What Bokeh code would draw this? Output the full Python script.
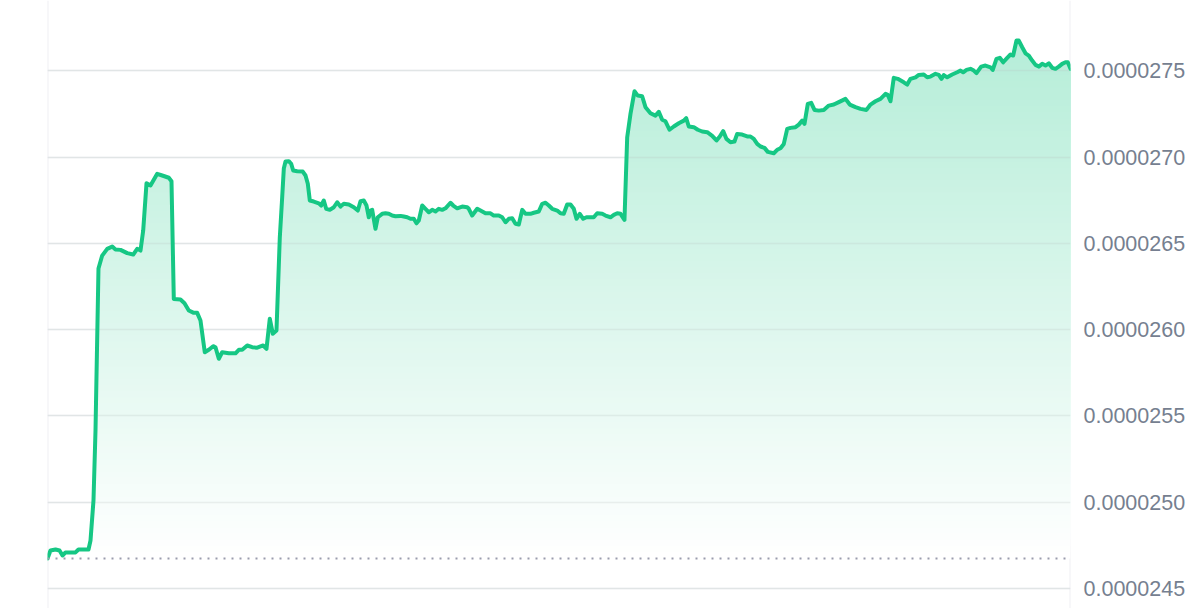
import numpy as np
from bokeh.plotting import figure
from bokeh.models import Range1d, FixedTicker, PrintfTickFormatter, Span
from bokeh.embed import file_html
from bokeh.resources import INLINE

# time in hours since start of the 24h window
hours = [
    0.000, 0.070, 0.188, 0.282, 0.352, 0.422, 0.540, 0.657, 0.727, 0.962,
    1.009, 1.079, 1.126, 1.196, 1.283, 1.401, 1.518, 1.595, 1.713, 1.870,
    2.011, 2.104, 2.182, 2.245, 2.323, 2.416, 2.574, 2.691, 2.846, 2.909,
    2.963, 3.120, 3.214, 3.315, 3.432, 3.512, 3.589, 3.690, 3.784, 3.887,
    3.941, 4.019, 4.098, 4.253, 4.411, 4.488, 4.568, 4.685, 4.802, 4.920,
    5.060, 5.138, 5.215, 5.286, 5.372, 5.450, 5.506, 5.544, 5.584, 5.661,
    5.717, 5.764, 5.858, 5.989, 6.053, 6.107, 6.154, 6.247, 6.365, 6.421,
    6.482, 6.538, 6.623, 6.717, 6.796, 6.874, 6.951, 7.069, 7.186, 7.280,
    7.343, 7.420, 7.484, 7.538, 7.577, 7.617, 7.695, 7.749, 7.852, 7.929,
    8.007, 8.087, 8.164, 8.281, 8.359, 8.439, 8.516, 8.594, 8.657, 8.711,
    8.791, 8.868, 8.946, 9.025, 9.103, 9.180, 9.260, 9.337, 9.454, 9.518,
    9.612, 9.729, 9.846, 9.884, 9.963, 10.081, 10.158, 10.275, 10.393, 10.470,
    10.588, 10.667, 10.745, 10.822, 10.902, 10.979, 11.057, 11.137, 11.214, 11.331,
    11.409, 11.526, 11.606, 11.683, 11.761, 11.840, 11.958, 12.035, 12.112, 12.192,
    12.270, 12.347, 12.410, 12.488, 12.568, 12.645, 12.739, 12.816, 12.896, 13.013,
    13.091, 13.208, 13.286, 13.365, 13.443, 13.536, 13.600, 13.677, 13.771, 13.848,
    13.951, 14.029, 14.146, 14.263, 14.341, 14.421, 14.498, 14.592, 14.693, 14.810,
    14.927, 14.984, 15.045, 15.162, 15.256, 15.359, 15.477, 15.594, 15.695, 15.772,
    15.852, 15.929, 16.023, 16.117, 16.180, 16.297, 16.415, 16.492, 16.570, 16.650,
    16.727, 16.821, 16.898, 17.039, 17.119, 17.196, 17.274, 17.354, 17.431, 17.548,
    17.626, 17.705, 17.759, 17.837, 17.917, 17.994, 18.095, 18.212, 18.329, 18.447,
    18.564, 18.721, 18.822, 18.956, 19.073, 19.214, 19.308, 19.425, 19.542, 19.660,
    19.714, 19.777, 19.854, 19.948, 20.089, 20.169, 20.246, 20.364, 20.441, 20.558,
    20.638, 20.715, 20.833, 20.910, 20.973, 21.027, 21.107, 21.224, 21.342, 21.419,
    21.482, 21.560, 21.654, 21.731, 21.794, 21.904, 22.005, 22.123, 22.176, 22.263,
    22.341, 22.421, 22.515, 22.592, 22.655, 22.733, 22.787, 22.867, 22.944, 23.022,
    23.101, 23.179, 23.256, 23.336, 23.413, 23.491, 23.570, 23.648, 23.725, 23.805,
    23.882, 23.936, 24.000,
]

# price in millionths (x 1e-6)
price_micro = [
    24.674, 24.720, 24.726, 24.720, 24.691, 24.709, 24.709, 24.709, 24.726, 24.726,
    24.778, 25.010, 25.415, 26.354, 26.429, 26.468, 26.481, 26.464, 26.462, 26.443,
    26.435, 26.468, 26.458, 26.574, 26.848, 26.835, 26.903, 26.893, 26.880, 26.860,
    26.178, 26.174, 26.153, 26.111, 26.097, 26.097, 26.053, 25.869, 25.883, 25.904,
    25.898, 25.831, 25.869, 25.863, 25.863, 25.883, 25.883, 25.908, 25.898, 25.895,
    25.908, 25.889, 26.063, 25.976, 25.995, 26.535, 26.767, 26.933, 26.974, 26.976,
    26.961, 26.922, 26.918, 26.916, 26.893, 26.845, 26.748, 26.742, 26.732, 26.719,
    26.748, 26.700, 26.694, 26.709, 26.738, 26.713, 26.729, 26.725, 26.709, 26.690,
    26.744, 26.748, 26.719, 26.651, 26.690, 26.694, 26.584, 26.651, 26.671, 26.674,
    26.671, 26.661, 26.657, 26.659, 26.655, 26.651, 26.642, 26.642, 26.616, 26.632,
    26.719, 26.700, 26.680, 26.694, 26.684, 26.700, 26.694, 26.703, 26.735, 26.719,
    26.703, 26.713, 26.709, 26.700, 26.661, 26.700, 26.690, 26.674, 26.674, 26.661,
    26.661, 26.651, 26.622, 26.642, 26.645, 26.613, 26.609, 26.694, 26.671, 26.671,
    26.677, 26.684, 26.729, 26.735, 26.719, 26.700, 26.690, 26.674, 26.671, 26.725,
    26.725, 26.700, 26.642, 26.671, 26.642, 26.651, 26.651, 26.651, 26.674, 26.671,
    26.661, 26.651, 26.665, 26.674, 26.671, 26.636, 27.115, 27.250, 27.381, 27.356,
    27.352, 27.289, 27.254, 27.240, 27.262, 27.216, 27.207, 27.158, 27.177, 27.196,
    27.211, 27.225, 27.177, 27.173, 27.158, 27.148, 27.144, 27.123, 27.096, 27.119,
    27.150, 27.105, 27.086, 27.090, 27.134, 27.130, 27.119, 27.119, 27.105, 27.076,
    27.061, 27.053, 27.030, 27.022, 27.042, 27.051, 27.076, 27.163, 27.169, 27.173,
    27.188, 27.211, 27.192, 27.308, 27.314, 27.273, 27.269, 27.273, 27.298, 27.304,
    27.318, 27.337, 27.304, 27.289, 27.279, 27.273, 27.304, 27.323, 27.337, 27.366,
    27.360, 27.323, 27.459, 27.453, 27.433, 27.420, 27.453, 27.462, 27.476, 27.478,
    27.462, 27.466, 27.482, 27.476, 27.453, 27.475, 27.462, 27.478, 27.491, 27.501,
    27.491, 27.505, 27.511, 27.501, 27.486, 27.524, 27.530, 27.520, 27.505, 27.569,
    27.575, 27.549, 27.575, 27.594, 27.588, 27.675, 27.675, 27.636, 27.601, 27.588,
    27.559, 27.534, 27.524, 27.540, 27.530, 27.543, 27.517, 27.511, 27.524, 27.540,
    27.549, 27.549, 27.511,
]

tick_values_micro = [24.5, 25.0, 25.5, 26.0, 26.5, 27.0, 27.5]

t = np.array(hours)
price = np.array(price_micro) * 1e-6
ticks = [v * 1e-6 for v in tick_values_micro]
base = price[0]

Y_LO, Y_HI = 24.384e-6, 27.907e-6
GREEN = (22, 199, 132)
GREEN_HEX = "#16c784"
GRID = "#eff0f3"

p = figure(width=1200, height=608, output_backend="svg", toolbar_location=None,
           x_range=Range1d(0, 24), y_range=Range1d(Y_LO, Y_HI),
           x_axis_location=None, y_axis_location="right",
           min_border_left=47, min_border_right=130,
           min_border_top=0, min_border_bottom=0)
p.outline_line_color = None
p.background_fill_color = "white"
p.border_fill_color = "white"

p.xgrid.visible = False
p.ygrid.ticker = FixedTicker(ticks=ticks)
p.ygrid.grid_line_color = GRID
p.ygrid.grid_line_width = 1.5

ax = p.yaxis[0]
ax.ticker = FixedTicker(ticks=ticks)
ax.formatter = PrintfTickFormatter(format="%.7f")
ax.axis_line_color = None
ax.major_tick_line_color = None
ax.minor_tick_line_color = None
ax.major_tick_out = 0
ax.major_tick_in = 0
ax.major_label_standoff = 13
ax.major_label_text_font = "Liberation Sans"
ax.major_label_text_font_size = "21.5px"
ax.major_label_text_color = "#767f90"

for xloc in (0, 24):
    p.add_layout(Span(location=xloc, dimension="height", line_color=GRID,
                      line_width=2, level="underlay"))


def mix(a):
    r, g, b = (round(255 + (c - 255) * a) for c in GREEN)
    return "#%02x%02x%02x" % (r, g, b)


# vertical gradient fill: opaque layers from each level up to the price line
N = 90
top = Y_HI
step = (top - base) / N
A_MAX = 0.34
for k in range(N):
    lo = base + step * k
    if lo >= price.max():
        break
    a = A_MAX * (lo + step / 2 - base) / (top - base)
    y1 = np.minimum(price, lo)
    p.varea(x=t, y1=y1, y2=price, fill_color=mix(a), fill_alpha=1.0)

# grid lines faintly visible through the fill
p.hspan(y=ticks, line_color="#b8c4c0", line_alpha=0.25, line_width=1.5)

p.add_layout(Span(location=base, dimension="width", line_color="#9a9cad",
                  line_width=2, line_dash="2 6"))

p.line(t, price, line_color=GREEN_HEX, line_width=4, line_join="round", line_cap="round")

open("out.html", "w").write(file_html(p, INLINE))
